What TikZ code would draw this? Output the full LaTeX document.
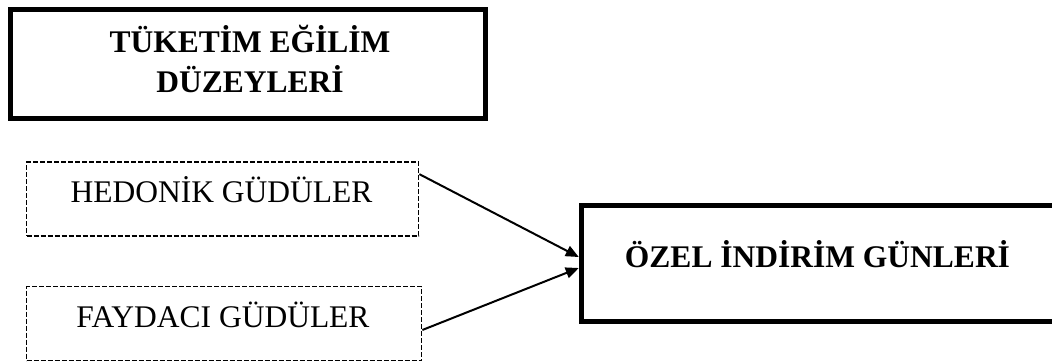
\documentclass[tikz,border=0pt]{standalone}
\usepackage{fontspec}
\setmainfont{Liberation Serif}
\usetikzlibrary{arrows.meta,calc}
\begin{document}
\begin{tikzpicture}[x=1pt,y=-1pt,
  thickbox/.style={draw,line width=5pt,inner sep=0pt,rectangle},
  dashbox/.style={draw,line width=1.7pt,dash pattern=on 5pt off 2pt,inner sep=0pt,rectangle},
  boldtxt/.style={font=\fontsize{31.5}{40}\selectfont\bfseries,inner sep=0pt,anchor=base},
  regtxt/.style={font=\fontsize{31.5}{40}\selectfont,inner sep=0pt,anchor=base},
  conn/.style={line width=2pt,-{Triangle[length=13pt,width=11pt]}}]
\useasboundingbox (0,0) rectangle (1052,362);
\clip (0,0) rectangle (1052,362);
% boxes
\node[thickbox,minimum width=475pt,minimum height=109pt] (top) at (248,64) {};
\node[dashbox,minimum width=392pt,minimum height=74pt] (hed) at (222.5,199) {};
\node[dashbox,minimum width=395pt,minimum height=74pt] (fay) at (224,323.5) {};
\node[thickbox,minimum width=475.5pt,minimum height=116pt] (ozel) at (819,263.5) {};
% texts
\node[boldtxt] (t1) at (250,52) {TÜKETİM EĞİLİM};
\node[boldtxt] (t2) at (250,92) {DÜZEYLERİ};
\node[regtxt] (th) at (221.5,202) {HEDONİK GÜDÜLER};
\node[regtxt] (tf) at (223,327) {FAYDACI GÜDÜLER};
\node[boldtxt] (to) at (817.5,267) {ÖZEL İNDİRİM GÜNLERİ};
% connectors
\draw[conn] ($(hed.north east)+(0,13)$) -- ($(ozel.west)+(0,-6.5)$);
\draw[conn] ($(fay.east)+(0,6.5)$) -- ($(ozel.west)+(0,4.5)$);
\end{tikzpicture}
\end{document}
